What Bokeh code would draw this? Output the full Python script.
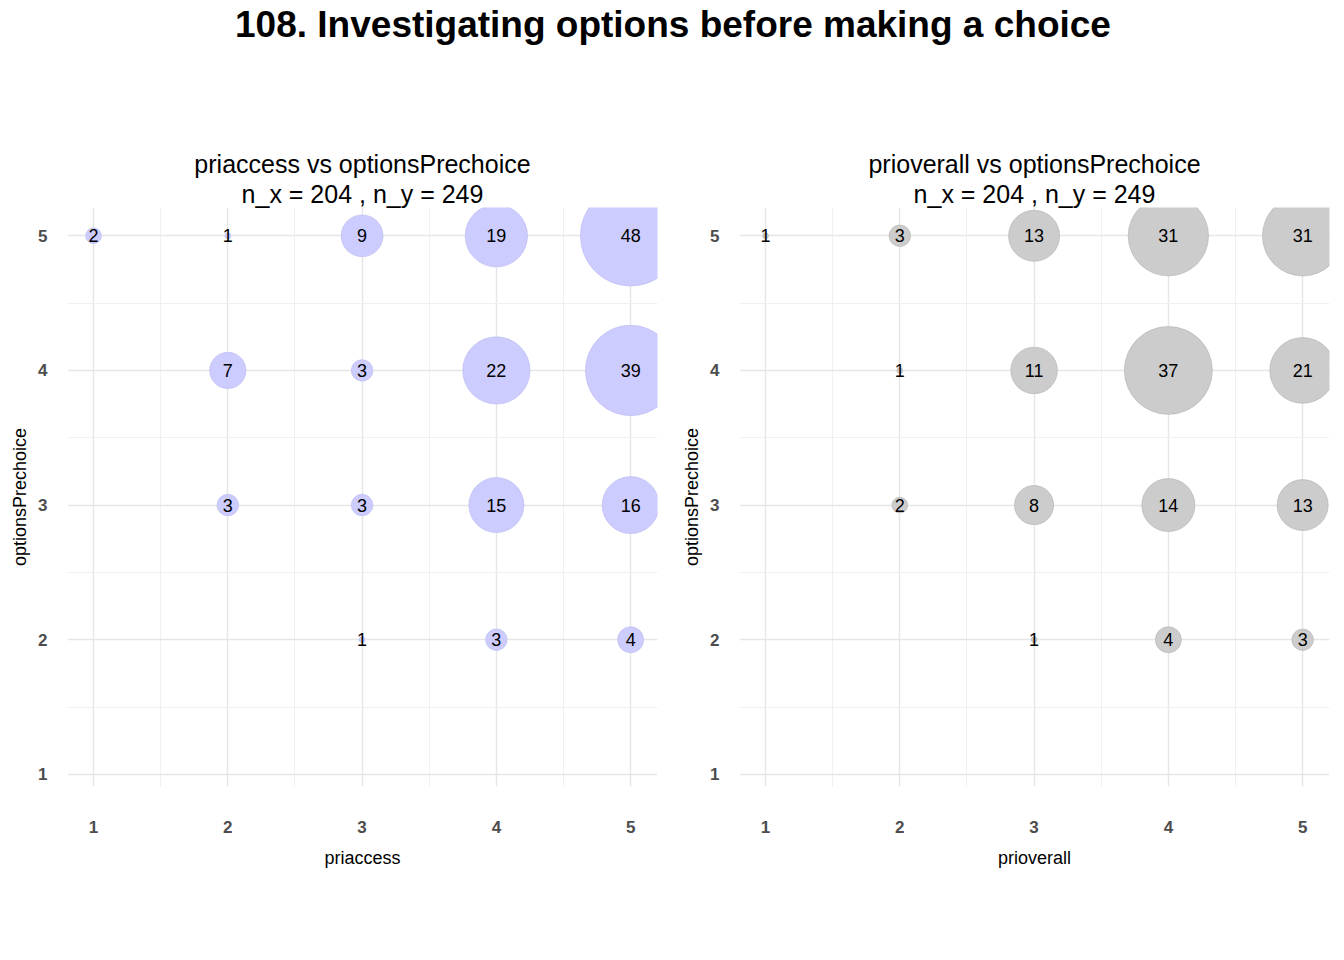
import numpy as np
from bokeh.plotting import figure, ColumnDataSource
from bokeh.models import Div, FixedTicker, Title
from bokeh.layouts import column, row
from bokeh.core.properties import value
from bokeh.embed import file_html
from bokeh.resources import INLINE

# priaccess vs optionsPrechoice
left_x = [1, 2, 3, 4, 5, 2, 3, 4, 5, 2, 3, 4, 5, 3, 4, 5]
left_y = [5, 5, 5, 5, 5, 4, 4, 4, 4, 3, 3, 3, 3, 2, 2, 2]
left_n = [2, 1, 9, 19, 48, 7, 3, 22, 39, 3, 3, 15, 16, 1, 3, 4]

# prioverall vs optionsPrechoice
right_x = [1, 2, 3, 4, 5, 2, 3, 4, 5, 2, 3, 4, 5, 3, 4, 5]
right_y = [5, 5, 5, 5, 5, 4, 4, 4, 4, 3, 3, 3, 3, 2, 2, 2]
right_n = [1, 3, 13, 31, 31, 1, 11, 37, 21, 2, 8, 14, 13, 1, 4, 3]

ticks = [1, 2, 3, 4, 5]
FONT = "Liberation Sans"


def panel(xs, ys, ns, xname, fill, line, left_border, right_border):
    r = np.sqrt(np.maximum(53.5 * np.array(ns) - 45, 4))
    src = ColumnDataSource(dict(x=xs, y=ys, n=[str(v) for v in ns], d=2 * r))
    p = figure(width=left_border + 590 + right_border, height=769, x_range=(0.806, 5.2),
               y_range=(0.91, 5.21), output_backend="svg", toolbar_location=None,
               min_border_left=left_border, min_border_right=right_border,
               min_border_top=100, min_border_bottom=90)
    p.title.visible = False
    for t in ("n_x = 204 , n_y = 249", f"{xname} vs optionsPrechoice"):
        p.add_layout(Title(text=t, align="center", text_font=FONT,
                           text_font_size="25px", text_font_style="normal",
                           text_color="black", standoff=0), "above")
    p.outline_line_color = None
    for ax in (p.xaxis, p.yaxis):
        ax.ticker = FixedTicker(ticks=ticks, minor_ticks=[1.5, 2.5, 3.5, 4.5])
        ax.axis_line_color = None
        ax.major_tick_line_color = None
        ax.minor_tick_line_color = None
        ax.major_label_text_font = FONT
        ax.major_label_text_font_style = "bold"
        ax.major_label_text_font_size = "17px"
        ax.major_label_text_color = "#4d4d4d"
        ax.axis_label_text_font = FONT
        ax.axis_label_text_font_style = "normal"
        ax.axis_label_text_font_size = "18px"
        ax.axis_label_text_color = "black"
    p.xaxis.major_label_standoff = 28
    p.xaxis.axis_label_standoff = 12
    p.yaxis.major_label_standoff = 14
    p.xaxis.axis_label = xname
    p.yaxis.axis_label = "optionsPrechoice"
    p.grid.grid_line_color = "#e6e6e6"
    p.grid.grid_line_width = 1.4
    p.grid.minor_grid_line_color = "#f0f0f0"
    p.scatter("x", "y", size="d", source=src, fill_color=fill, line_color=line,
              line_width=0.6)
    p.text("x", "y", text="n", source=src, text_align="center",
           text_baseline="middle", text_font_size="18px", text_color="black",
           text_font=value(FONT))
    return p


p1 = panel(left_x, left_y, left_n, "priaccess", "#ccccff", "#b8b8f0", 67, 8)
p2 = panel(right_x, right_y, right_n, "prioverall", "#cccccc", "#b0b0b0", 74, 7)

title = Div(text="<div style='width:1336px;text-align:center;font-family:Liberation Sans,Arial;"
                 "font-weight:bold;font-size:37px;margin-top:-6px'>108. Investigating options before making a choice</div>",
            width=1336, height=97)

p = column(title, row(p1, p2))
open("out.html", "w").write(file_html(p, INLINE))
